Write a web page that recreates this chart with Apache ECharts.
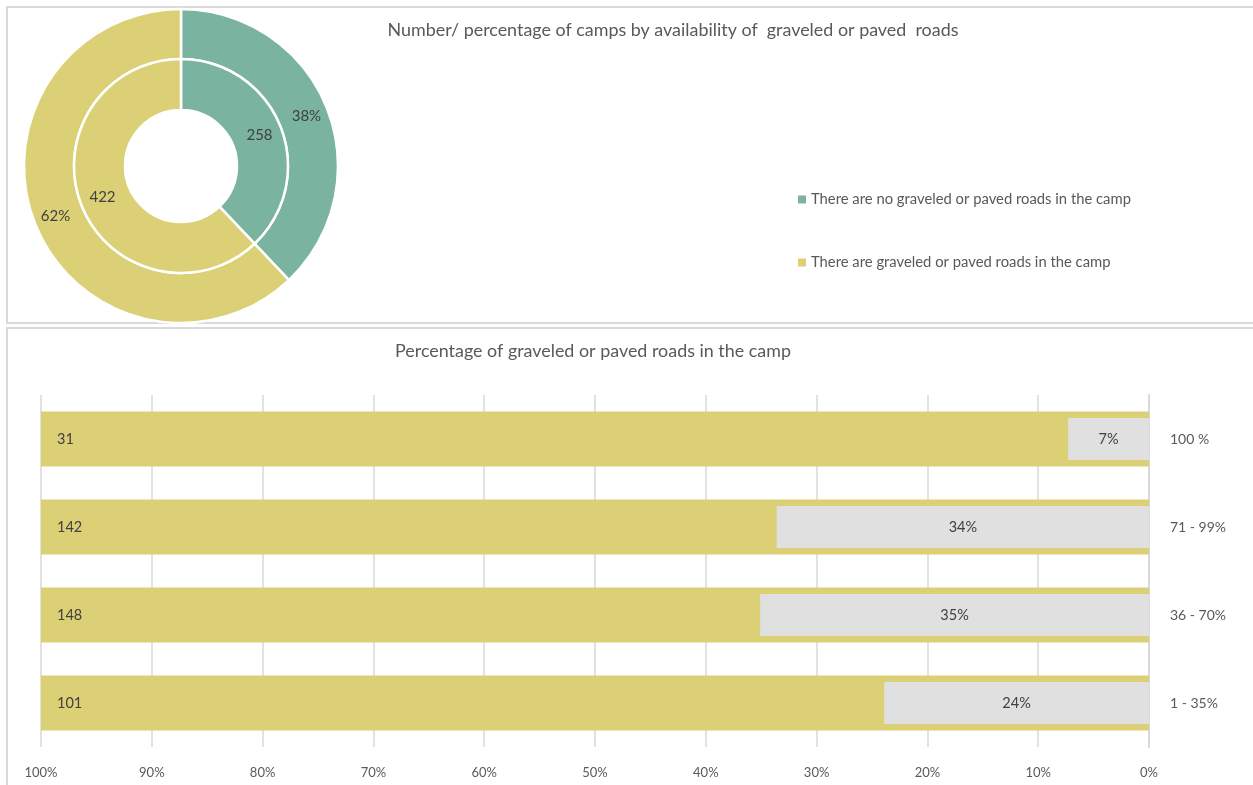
<!DOCTYPE html>
<html>
<head>
<meta charset="utf-8">
<script src="https://cdn.jsdelivr.net/npm/echarts@6/dist/echarts.min.js"></script>
<style>
html,body{margin:0;padding:0;background:#fff;}
#c{width:1253px;height:785px;}
</style>
</head>
<body>
<div id="c"></div>
<script>
// ---- data ----
var pieNames = ['There are no graveled or paved roads in the camp', 'There are graveled or paved roads in the camp'];
var pieCounts = [258, 422];
var barCategories = ['100 %', '71 - 99%', '36 - 70%', '1 - 35%'];
var barCounts = [31, 142, 148, 101];
var barPercents = [7.3, 33.6, 35.1, 23.9];
var fullBar = [100, 100, 100, 100];

var GREEN = '#7AB3A0', YELLOW = '#DCD077', GRAY = '#E0E0E0', BORDER = '#D9D9D9';
var FONT = 'Lato';

var chart = echarts.init(document.getElementById('c'));
var pieData = pieNames.map(function (n, i) {
  return { name: n, value: pieCounts[i], itemStyle: { color: i === 0 ? GREEN : YELLOW } };
});

var option = {
  animation: false,
  textStyle: { fontFamily: FONT },
  graphic: [
    { type: 'rect', shape: { x: 7, y: 7, width: 1260, height: 316 }, style: { fill: 'none', stroke: BORDER, lineWidth: 2 }, z: -1 },
    { type: 'rect', shape: { x: 7, y: 328, width: 1260, height: 470 }, style: { fill: 'none', stroke: BORDER, lineWidth: 2 }, z: -1 }
  ],
  title: [
    { text: 'Number/ percentage of camps by availability of  graveled or paved  roads', left: 668, top: 16, textAlign: 'center',
      textStyle: { fontFamily: FONT, fontSize: 17.9, fontWeight: 'normal', color: '#595959' } },
    { text: 'Percentage of graveled or paved roads in the camp', left: 588, top: 337, textAlign: 'center',
      textStyle: { fontFamily: FONT, fontSize: 17.9, fontWeight: 'normal', color: '#595959' } }
  ],
  legend: {
    data: pieNames,
    orient: 'vertical',
    left: 791,
    top: 187,
    itemWidth: 10,
    itemHeight: 10,
    itemGap: 48,
    icon: 'rect',
    textStyle: { fontFamily: FONT, fontSize: 14.8, color: '#595959', padding: [0, 0, 0, -1] }
  },
  grid: { left: 41, right: 104, top: 395, height: 352 },
  xAxis: {
    type: 'value', inverse: true, min: 0, max: 100, interval: 10,
    axisLine: { show: false }, axisTick: { show: false },
    splitLine: { show: true, lineStyle: { color: BORDER, width: 1.5 } },
    axisLabel: { formatter: '{value}%', margin: 19, color: '#595959', fontSize: 13, fontFamily: FONT }
  },
  yAxis: [
    { type: 'category', data: barCategories, inverse: true, position: 'right',
      axisLine: { show: true, lineStyle: { color: BORDER, width: 2 } }, axisTick: { show: false },
      axisLabel: { margin: 21, color: '#595959', fontSize: 14, fontFamily: FONT } },
    { type: 'category', data: barCategories, inverse: true, position: 'right', show: false }
  ],
  series: [
    { type: 'pie', radius: [107, 157], center: [181, 166], startAngle: 90, data: pieData,
      itemStyle: { borderColor: '#fff', borderWidth: 2.5 },
      label: { position: 'inside', color: '#404040', fontSize: 15, fontFamily: FONT,
        formatter: function (p) { return Math.round(p.percent) + '%'; } },
      labelLine: { show: false }, emphasis: { disabled: true } },
    { type: 'pie', radius: [56, 107], center: [181, 166], startAngle: 90, data: pieData,
      itemStyle: { borderColor: '#fff', borderWidth: 2.5 },
      label: { position: 'inside', color: '#404040', fontSize: 15, fontFamily: FONT, formatter: '{c}' },
      labelLine: { show: false }, emphasis: { disabled: true } },
    { type: 'bar', yAxisIndex: 1, data: fullBar, barWidth: 55, itemStyle: { color: YELLOW },
      label: { show: true, position: 'insideLeft', distance: 16, color: '#404040', fontSize: 14.5, fontFamily: FONT,
        formatter: function (p) { return barCounts[p.dataIndex]; } }, z: 2 },
    { type: 'bar', yAxisIndex: 0, data: barPercents, barWidth: 42, itemStyle: { color: GRAY },
      label: { show: true, position: 'inside', color: '#404040', fontSize: 14.5, fontFamily: FONT,
        formatter: function (p) { return Math.round(p.value) + '%'; } }, z: 3 }
  ]
};
chart.setOption(option);
</script>
</body>
</html>
